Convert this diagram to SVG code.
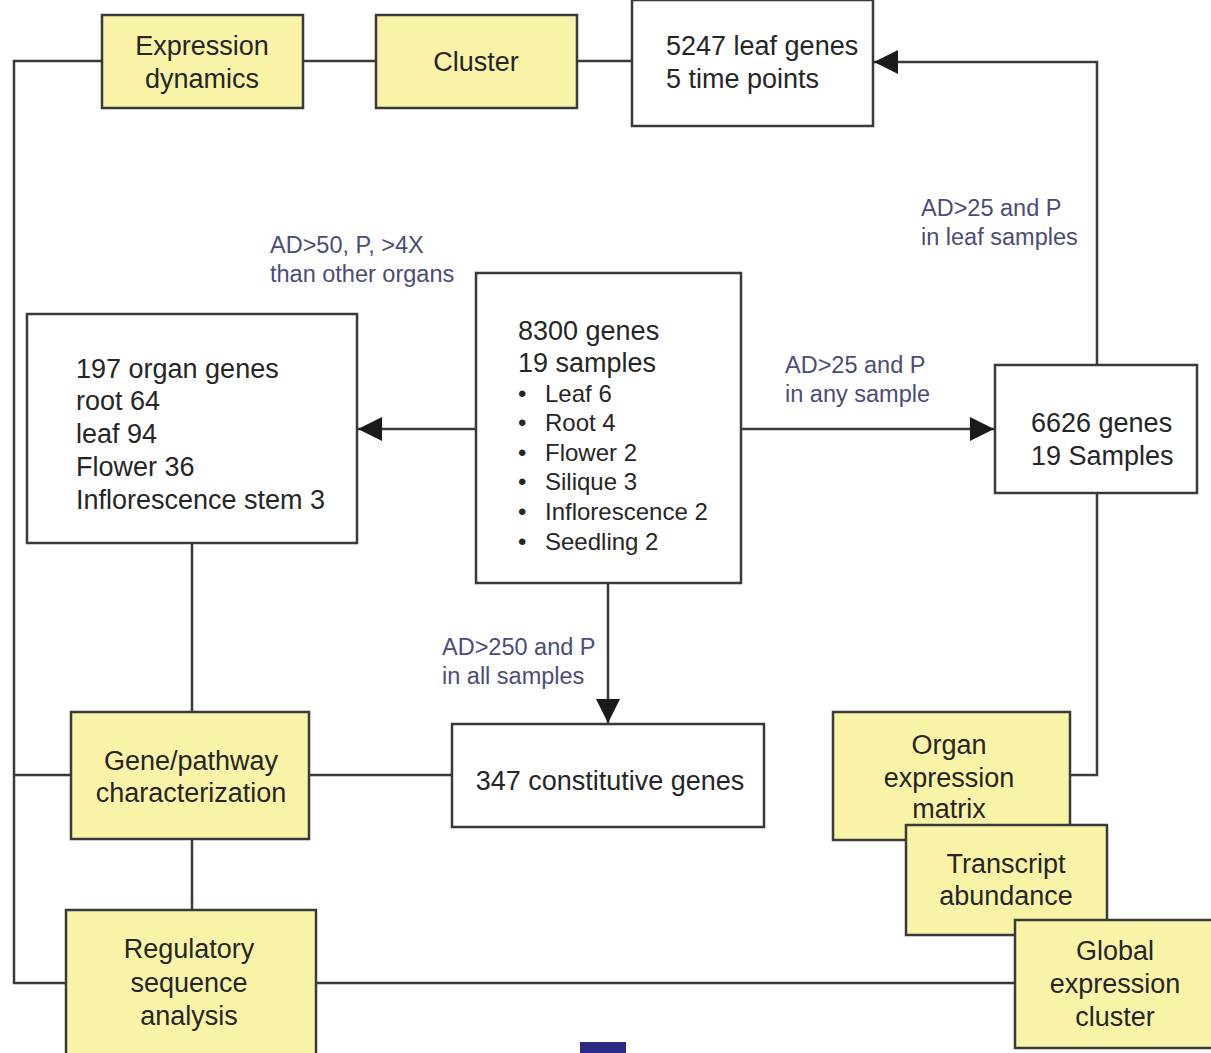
<svg xmlns="http://www.w3.org/2000/svg" width="1211" height="1053" viewBox="0 0 1211 1053">
<style>
.box{fill:#ffffff;stroke:#3a3a3a;stroke-width:2.5}
.ybox{fill:#f9f3a8;stroke:#3a3a3a;stroke-width:2.5}
.t{font-family:"Liberation Sans",Arial,sans-serif;font-size:27px;fill:#262626}
.s{font-family:"Liberation Sans",Arial,sans-serif;font-size:24px;fill:#262626}
.c{text-anchor:middle}
.lbl{font-family:"Liberation Sans",Arial,sans-serif;font-size:23.5px;fill:#4c4c78}
.ln{fill:none;stroke:#3a3a3a;stroke-width:2.5}
</style>
<defs>
<marker id="ah2" viewBox="0 0 10 10" refX="10" refY="5" markerWidth="24" markerHeight="24" markerUnits="userSpaceOnUse" orient="auto">
<path d="M0,0 L10,5 L0,10 z" fill="#1a1a1a"/>
</marker>
</defs>
<rect x="0" y="0" width="1211" height="1053" fill="#ffffff"/>
<g id="connectors">
<polyline class="ln" points="102,61 14,61 14,983 66,983"/>
<line class="ln" x1="14" y1="775" x2="71" y2="775"/>
<line class="ln" x1="303" y1="61" x2="376" y2="61"/>
<line class="ln" x1="577" y1="61" x2="632" y2="61"/>
<polyline class="ln" points="1097,365 1097,62 874,62" marker-end="url(#ah2)"/>
<line class="ln" x1="476" y1="429" x2="358" y2="429" marker-end="url(#ah2)"/>
<line class="ln" x1="741" y1="429" x2="994" y2="429" marker-end="url(#ah2)"/>
<line class="ln" x1="608" y1="583" x2="608" y2="723" marker-end="url(#ah2)"/>
<polyline class="ln" points="1097,493 1097,775 1070,775"/>
<line class="ln" x1="192" y1="543" x2="192" y2="712"/>
<line class="ln" x1="192" y1="839" x2="192" y2="910"/>
<line class="ln" x1="309" y1="775" x2="452" y2="775"/>
<line class="ln" x1="316" y1="983" x2="1015" y2="983"/>
</g>
<g id="labels">
<text class="lbl" x="270" y="253">AD&gt;50, P, &gt;4X</text>
<text class="lbl" x="270" y="282">than other organs</text>
<text class="lbl" x="921" y="216">AD&gt;25 and P</text>
<text class="lbl" x="921" y="245">in leaf samples</text>
<text class="lbl" x="785" y="373">AD&gt;25 and P</text>
<text class="lbl" x="785" y="402">in any sample</text>
<text class="lbl" x="442" y="655">AD&gt;250 and P</text>
<text class="lbl" x="442" y="684">in all samples</text>
</g>
<g id="expression-dynamics">
<rect class="ybox" x="102" y="15" width="201" height="93"/>
<text class="t c" x="202" y="55">Expression</text>
<text class="t c" x="202" y="88">dynamics</text>
</g>
<g id="cluster">
<rect class="ybox" x="376" y="15" width="201" height="93"/>
<text class="t c" x="476" y="71">Cluster</text>
</g>
<g id="leaf-genes">
<rect class="box" x="632" y="0" width="241" height="126"/>
<text class="t" x="666" y="55">5247 leaf genes</text>
<text class="t" x="666" y="88">5 time points</text>
</g>
<g id="genes-8300">
<rect class="box" x="476" y="273" width="265" height="310"/>
<text class="t" x="518" y="340">8300 genes</text>
<text class="t" x="518" y="372">19 samples</text>
<text class="s" x="518" y="402">•</text><text class="s" x="545" y="402">Leaf 6</text>
<text class="s" x="518" y="431">•</text><text class="s" x="545" y="431">Root 4</text>
<text class="s" x="518" y="461">•</text><text class="s" x="545" y="461">Flower 2</text>
<text class="s" x="518" y="490">•</text><text class="s" x="545" y="490">Silique 3</text>
<text class="s" x="518" y="520">•</text><text class="s" x="545" y="520">Inflorescence 2</text>
<text class="s" x="518" y="550">•</text><text class="s" x="545" y="550">Seedling 2</text>
</g>
<g id="organ-genes">
<rect class="box" x="27" y="314" width="330" height="229"/>
<text class="t" x="76" y="378">197 organ genes</text>
<text class="t" x="76" y="410">root 64</text>
<text class="t" x="76" y="443">leaf 94</text>
<text class="t" x="76" y="476">Flower 36</text>
<text class="t" x="76" y="509">Inflorescence stem 3</text>
</g>
<g id="genes-6626">
<rect class="box" x="995" y="365" width="202" height="128"/>
<text class="t" x="1031" y="432">6626 genes</text>
<text class="t" x="1031" y="465">19 Samples</text>
</g>
<g id="constitutive">
<rect class="box" x="452" y="724" width="312" height="103"/>
<text class="t c" x="610" y="790">347 constitutive genes</text>
</g>
<g id="gene-pathway">
<rect class="ybox" x="71" y="712" width="238" height="127"/>
<text class="t c" x="191" y="770">Gene/pathway</text>
<text class="t c" x="191" y="802">characterization</text>
</g>
<g id="regulatory">
<rect class="ybox" x="66" y="910" width="250" height="150"/>
<text class="t c" x="189" y="958">Regulatory</text>
<text class="t c" x="189" y="992">sequence</text>
<text class="t c" x="189" y="1025">analysis</text>
</g>
<g id="organ-matrix">
<rect class="ybox" x="833" y="712" width="237" height="128"/>
<text class="t c" x="949" y="754">Organ</text>
<text class="t c" x="949" y="787">expression</text>
<text class="t c" x="949" y="818">matrix</text>
</g>
<g id="transcript">
<rect class="ybox" x="906" y="825" width="201" height="110"/>
<text class="t c" x="1006" y="873">Transcript</text>
<text class="t c" x="1006" y="905">abundance</text>
</g>
<g id="global-cluster">
<rect class="ybox" x="1015" y="920" width="210" height="128"/>
<text class="t c" x="1115" y="960">Global</text>
<text class="t c" x="1115" y="993">expression</text>
<text class="t c" x="1115" y="1026">cluster</text>
</g>
<rect x="580" y="1042" width="46" height="14" fill="#2c2a82"/>
</svg>
